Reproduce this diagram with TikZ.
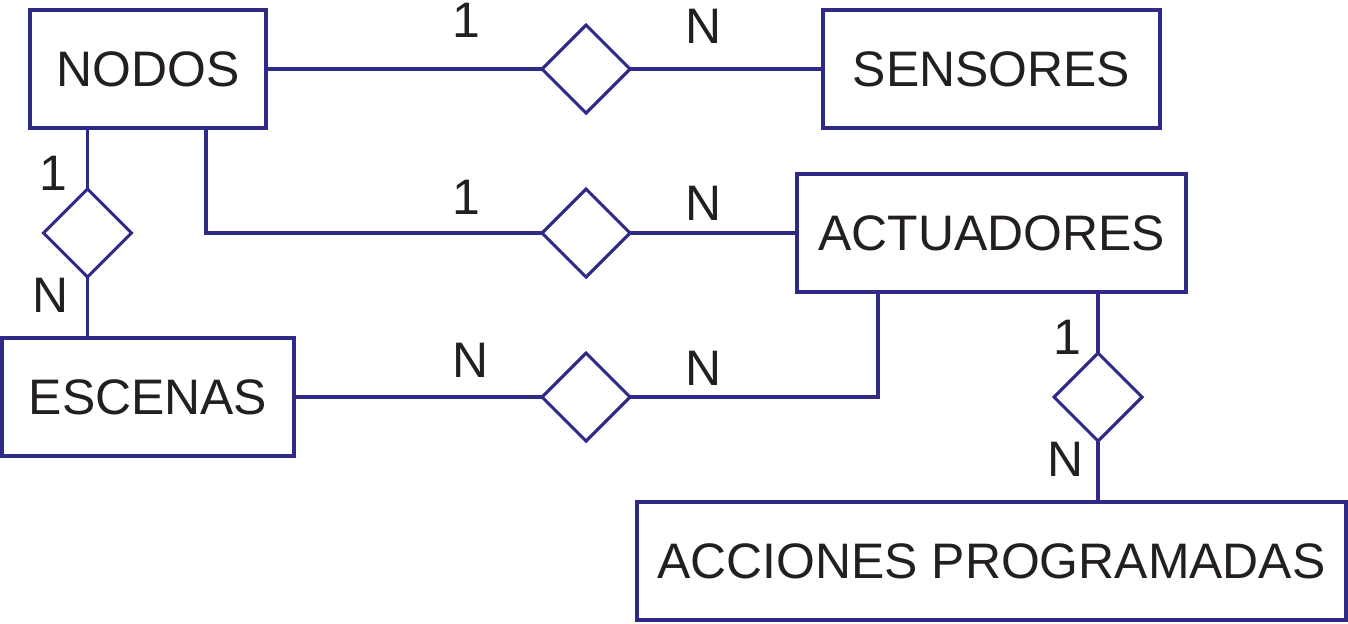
\documentclass[tikz,border=0pt]{standalone}
\usepackage{fontspec}
\setmainfont{Liberation Sans}
\usetikzlibrary{shapes.geometric}
\definecolor{erline}{HTML}{2E2A86}
\definecolor{ertext}{HTML}{231F20}
\begin{document}
\begin{tikzpicture}[x=0.02cm,y=-0.02cm,
  every node/.style={font=\fontsize{28.4}{34}\selectfont, text=ertext, inner sep=0pt, outer sep=0pt},
  entity/.style={draw=erline, line width=1.8pt, rectangle, minimum height=118*0.02cm},
  rel/.style={draw=erline, line width=1.8pt, diamond, minimum width=88*0.02cm, minimum height=88*0.02cm},
  conn/.style={draw=erline, line width=1.8pt},
  card/.style={}]
\useasboundingbox (0,0) rectangle (1348,623);
% entities
\node[entity, minimum width=236*0.02cm] (nodos) at (148,69) {NODOS};
\node[entity, minimum width=337*0.02cm] (sens) at (991.5,69) {SENSORES};
\node[entity, minimum width=389*0.02cm] (act) at (991.5,233) {ACTUADORES};
\node[entity, minimum width=292*0.02cm] (esc) at (148,397) {ESCENAS};
\node[entity, minimum width=709*0.02cm] (acc) at (991.5,561) {ACCIONES PROGRAMADAS};
% relationships
\node[rel] (d1) at (586,69) {};
\node[rel] (d2) at (586,233) {};
\node[rel] (d3) at (87.5,233) {};
\node[rel] (d4) at (586,397) {};
\node[rel] (d5) at (1098,397) {};
% connectors
\draw[conn] (nodos.east) -- (d1.west);
\draw[conn] (d1.east) -- (sens.west);
\draw[conn] ([xshift=58*0.02cm]nodos.south) |- (d2.west);
\draw[conn] (d2.east) -- (act.west);
\draw[conn] (d3.north |- nodos.south) -- (d3.north);
\draw[conn] (d3.south) -- (d3.south |- esc.north);
\draw[conn] (esc.east) -- (d4.west);
\draw[conn] (d4.east) -| ([xshift=-113.5*0.02cm]act.south);
\draw[conn] (d5.north |- act.south) -- (d5.north);
\draw[conn] (d5.south) -- (d5.south |- acc.north);
% cardinalities
\node[card] (c1a) at (466,20) {1};
\node[card] (c1b) at (704,26) {N};
\node[card] (c2a) at (466,197) {1};
\node[card] (c2b) at (704,203) {N};
\node[card] (c3a) at (53,173) {1};
\node[card] (c3b) at (51,295) {N};
\node[card] (c4a) at (471,360) {N};
\node[card] (c4b) at (704,368) {N};
\node[card] (c5a) at (1067,337) {1};
\node[card] (c5b) at (1065,459) {N};
\end{tikzpicture}
\end{document}
